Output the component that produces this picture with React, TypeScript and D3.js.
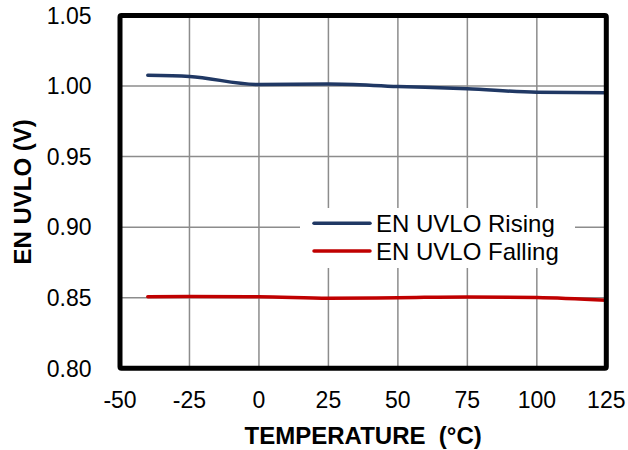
import React from "react";
import * as d3 from "d3";

const temperatures = [-40, -25, 0, 25, 50, 75, 100, 125];
const risingValues = [1.0077, 1.0068, 1.0011, 1.0015, 0.9997, 0.9981, 0.9956, 0.9953];
const fallingValues = [0.8507, 0.8508, 0.8507, 0.8496, 0.85, 0.8506, 0.8502, 0.8482];
const xTicks = [-50, -25, 0, 25, 50, 75, 100, 125];
const yTicks = [0.8, 0.85, 0.9, 0.95, 1.0, 1.05];
const seriesNames = ["EN UVLO Rising", "EN UVLO Falling"];
const seriesColors = ["#203864", "#C00000"];

const W = 628;
const H = 450;
const FONT = "'Liberation Sans', Arial, sans-serif";

export default function App() {
  const x = d3.scaleLinear().domain([-50, 125]).range([120, 606.3]);
  const y = d3.scaleLinear().domain([0.8, 1.05]).range([368.3, 15.5]);
  const line = d3
    .line<[number, number]>()
    .x((d) => x(d[0]))
    .y((d) => y(d[1]))
    .curve(d3.curveMonotoneX);
  const series = [risingValues, fallingValues].map((vals) =>
    temperatures.map((t, i) => [t, vals[i]] as [number, number])
  );

  return (
    <svg
      width={W}
      height={H}
      style={{ position: "absolute", left: 0, top: 0, background: "#fff" }}
      fontFamily={FONT}
    >
      <rect x={0} y={0} width={W} height={H} fill="#fff" />
      {xTicks.map((t) => (
        <line key={"gx" + t} x1={x(t)} x2={x(t)} y1={y(1.05)} y2={y(0.8)} stroke="#8c8c8c" strokeWidth={1.5} />
      ))}
      {yTicks.map((t) => (
        <line key={"gy" + t} x1={x(-50)} x2={x(125)} y1={y(t)} y2={y(t)} stroke="#8c8c8c" strokeWidth={1.5} />
      ))}
      {series.map((s, i) => (
        <path key={"s" + i} d={line(s) || ""} fill="none" stroke={seriesColors[i]} strokeWidth={3.5} strokeLinecap="round" />
      ))}
      <rect x={300} y={208} width={275} height={60} fill="#fff" />
      {seriesNames.map((n, i) => (
        <g key={"lg" + i}>
          <line x1={314} x2={370} y1={223.3 + i * 27.7} y2={223.3 + i * 27.7} stroke={seriesColors[i]} strokeWidth={3.5} strokeLinecap="round" />
          <text x={376} y={223.3 + i * 27.7} dy="0.36em" fontSize={24} fill="#000">
            {n}
          </text>
        </g>
      ))}
      <rect
        x={x(-50)}
        y={y(1.05)}
        width={x(125) - x(-50)}
        height={y(0.8) - y(1.05)}
        fill="none"
        stroke="#000"
        strokeWidth={5}
        rx={1.5}
      />
      {yTicks.map((t) => (
        <text key={"ty" + t} x={91.5} y={y(t)} dy="0.36em" textAnchor="end" fontSize={23} fill="#000">
          {t.toFixed(2)}
        </text>
      ))}
      {xTicks.map((t) => (
        <text key={"tx" + t} x={x(t)} y={408} textAnchor="middle" fontSize={23} fill="#000">
          {t}
        </text>
      ))}
      <text
        x={(x(-50) + x(125)) / 2}
        y={444}
        textAnchor="middle"
        fontSize={24}
        fontWeight="bold"
        fill="#000"
        style={{ whiteSpace: "pre" }}
      >
        {"TEMPERATURE  (°C)"}
      </text>
      <text
        transform={`translate(31, ${(y(1.05) + y(0.8)) / 2}) rotate(-90)`}
        textAnchor="middle"
        fontSize={24}
        fontWeight="bold"
        fill="#000"
      >
        EN UVLO (V)
      </text>
    </svg>
  );
}
